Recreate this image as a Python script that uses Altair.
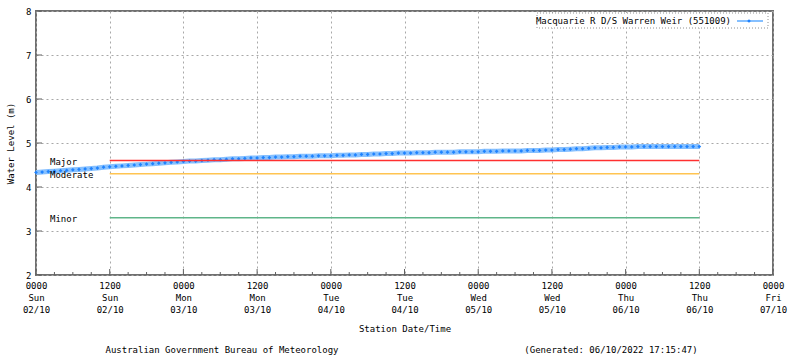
import altair as alt
import pandas as pd

# ---- data ----
series_name = "Macquarie R D/S Warren Weir (551009)"
hours = list(range(0, 109))
levels = [
    4.33, 4.34, 4.35, 4.36, 4.37, 4.38, 4.39, 4.40, 4.41, 4.42, 4.43, 4.45, 4.46,
    4.47, 4.48, 4.49, 4.50, 4.51, 4.52, 4.53, 4.54, 4.55, 4.56, 4.57, 4.58,
    4.59, 4.59, 4.60, 4.61, 4.62, 4.62, 4.63, 4.64, 4.64, 4.65, 4.66, 4.66,
    4.67, 4.67, 4.68, 4.68, 4.69, 4.69, 4.70, 4.70, 4.70, 4.71, 4.71, 4.71,
    4.72, 4.72, 4.73, 4.73, 4.74, 4.74, 4.75, 4.75, 4.76, 4.76, 4.77, 4.77,
    4.77, 4.78, 4.78, 4.78, 4.79, 4.79, 4.79, 4.79, 4.80, 4.80, 4.80, 4.80,
    4.81, 4.81, 4.81, 4.82, 4.82, 4.82, 4.82, 4.83, 4.83, 4.83, 4.84, 4.84,
    4.85, 4.85, 4.86, 4.87, 4.87, 4.88, 4.89, 4.89, 4.90, 4.90, 4.91, 4.91,
    4.91, 4.92, 4.92, 4.92, 4.92, 4.92, 4.92, 4.92, 4.92, 4.92, 4.92, 4.92,
]

tick_hours = [0, 12, 24, 36, 48, 60, 72, 84, 96, 108, 120]
tick_time = ["0000", "1200", "0000", "1200", "0000", "1200", "0000", "1200", "0000", "1200", "0000"]
tick_day = ["Sun", "Sun", "Mon", "Mon", "Tue", "Tue", "Wed", "Wed", "Thu", "Thu", "Fri"]
tick_date = ["02/10", "02/10", "03/10", "03/10", "04/10", "04/10", "05/10", "05/10", "06/10", "06/10", "07/10"]
minor_tick_hours = [h for h in range(0, 121, 3) if h % 12 != 0]
y_ticks = [2, 3, 4, 5, 6, 7, 8]

threshold_names = ["Major", "Moderate", "Minor"]
threshold_values = [4.6, 4.3, 3.3]
threshold_colors = ["#ff3030", "#ffc451", "#5fb589"]
threshold_start = [12, 12, 12]
threshold_end = [108, 108, 108]

footer_left = "Australian Government Bureau of Meteorology"
footer_right = "(Generated: 06/10/2022 17:15:47)"

FONT = "DejaVu Sans Mono"
FS = 9

series_df = pd.DataFrame({"hour": hours, "level": levels})
thr_df = pd.DataFrame({
    "name": threshold_names, "level": threshold_values, "color": threshold_colors,
    "hour": threshold_start, "hour_end": threshold_end,
})
major_df = pd.DataFrame({"hour": tick_hours})
minor_df = pd.DataFrame({"hour": minor_tick_hours})
ytick_df = pd.DataFrame({"level": y_ticks})
one = pd.DataFrame({"a": [0]})

label_js = "[" + ",".join(
    f"['{a}','{b}','{c}']" for a, b, c in zip(tick_time, tick_day, tick_date)
) + "][round(datum.value/12)]"

x_scale = alt.Scale(domain=[0, 120], nice=False, zero=False)
y_scale = alt.Scale(domain=[2, 8], nice=False, zero=False)

x_axis = alt.Axis(
    values=tick_hours, labelExpr=label_js, labelLineHeight=12, labelPadding=6,
    labelFlush=False, labelOverlap=False, labelBound=False,
    title="Station Date/Time", titlePadding=10, grid=True, gridDash=[2, 3],
    gridColor="#a8a8a8", gridWidth=1, domain=False, ticks=False,
    labelFont=FONT, labelFontSize=FS, labelColor="#000", labelBaseline="top",
    titleFont=FONT, titleFontSize=FS, titleFontWeight="normal", titleColor="#000",
)
y_axis = alt.Axis(
    values=y_ticks, title="Water Level (m)", titlePadding=10, grid=True,
    gridDash=[2, 3], gridColor="#a8a8a8", gridWidth=1, domain=False, ticks=False,
    labelPadding=5, labelFlush=False, labelFont=FONT, labelFontSize=FS, labelColor="#000",
    titleFont=FONT, titleFontSize=FS, titleFontWeight="normal", titleColor="#000",
)

X = alt.X("hour:Q", scale=x_scale, axis=x_axis)
Y = alt.Y("level:Q", scale=y_scale, axis=y_axis)

line = alt.Chart(series_df).mark_line(color="#86c0ff", strokeWidth=5).encode(x=X, y=Y)
pts = alt.Chart(series_df).mark_point(
    shape="diamond", filled=True, color="#1f83ff", size=14, opacity=1
).encode(x=X, y=Y)

thr_rules = alt.Chart(thr_df).mark_rule(strokeWidth=1.5).encode(
    x=X, x2="hour_end:Q", y=Y, color=alt.Color("color:N", scale=None)
)
thr_text = alt.Chart(thr_df).mark_text(
    align="left", baseline="middle", font=FONT, fontSize=FS, color="#000", dy=1
).encode(x=alt.value(14), y=Y, text="name:N")

major_ticks = alt.Chart(major_df).mark_rule(color="#606060", strokeWidth=1).encode(
    x=X, y=alt.value(264), y2=alt.value(258)
)
minor_ticks = alt.Chart(minor_df).mark_rule(color="#606060", strokeWidth=1).encode(
    x=X, y=alt.value(264), y2=alt.value(261)
)
y_inticks = alt.Chart(ytick_df).mark_rule(color="#606060", strokeWidth=1).encode(
    y=Y, x=alt.value(0), x2=alt.value(6)
)

# legend box (top right)
leg_box = alt.Chart(one).mark_rect(
    fill="white", stroke="#909090", strokeDash=[1, 2], strokeWidth=1
).encode(x=alt.value(501), x2=alt.value(732), y=alt.value(2), y2=alt.value(17))
leg_text = alt.Chart(one).mark_text(
    align="right", baseline="middle", font=FONT, fontSize=FS, color="#000", text=series_name
).encode(x=alt.value(695), y=alt.value(10))
leg_line = alt.Chart(one).mark_rule(color="#86c0ff", strokeWidth=2).encode(
    x=alt.value(701), x2=alt.value(727), y=alt.value(10)
)
leg_pt = alt.Chart(one).mark_point(
    shape="diamond", filled=True, color="#1f83ff", size=14, opacity=1
).encode(x=alt.value(713), y=alt.value(10))

foot1 = alt.Chart(one).mark_text(
    align="center", baseline="middle", font=FONT, fontSize=FS, color="#000", text=footer_left
).encode(x=alt.value(186), y=alt.value(339))
foot2 = alt.Chart(one).mark_text(
    align="center", baseline="middle", font=FONT, fontSize=FS, color="#000", text=footer_right
).encode(x=alt.value(575), y=alt.value(339))

chart = alt.layer(
    line, pts, thr_rules, thr_text, major_ticks, minor_ticks, y_inticks,
    leg_box, leg_text, leg_line, leg_pt, foot1, foot2,
).properties(
    width=737, height=264,
    autosize=alt.AutoSizeParams(type="none"),
    padding={"left": 36, "top": 11, "right": 27, "bottom": 83},
    background="white",
).configure_view(stroke="#707070", strokeWidth=2)

chart.save("out.html", embed_options={"renderer": "svg", "actions": False})
